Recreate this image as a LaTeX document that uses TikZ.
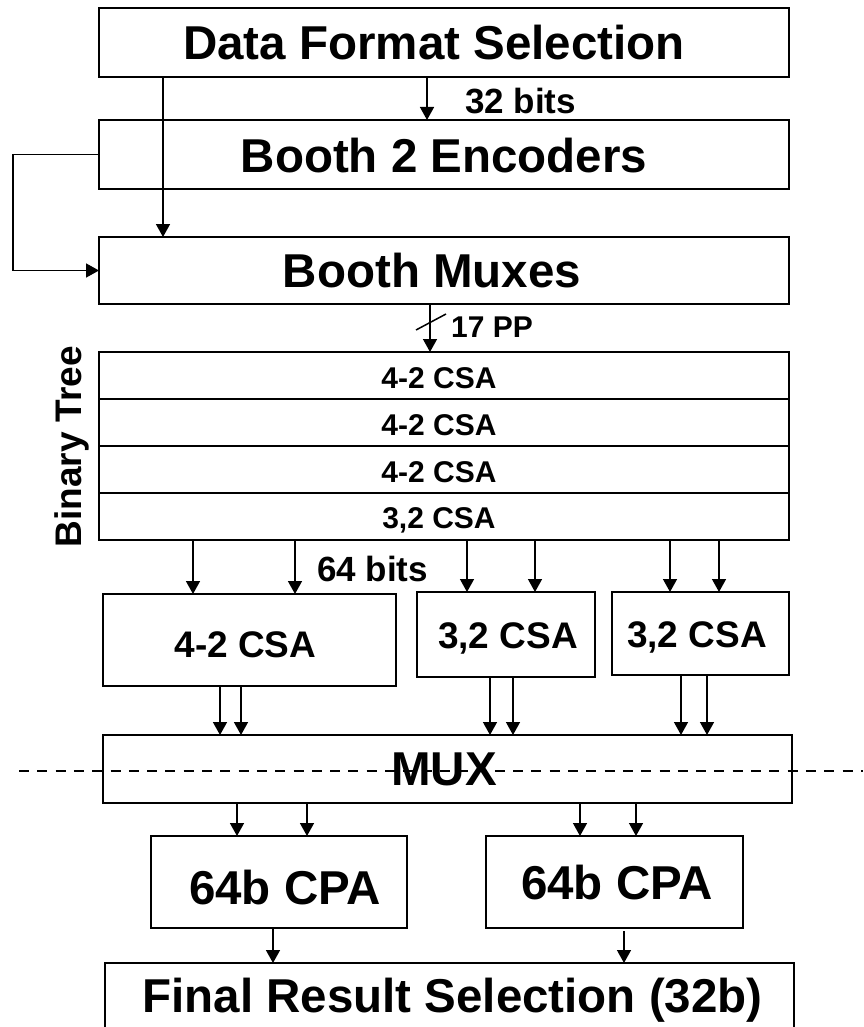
\documentclass[tikz,border=0pt]{standalone}
\usepackage{fontspec}
\setmainfont{Liberation Sans}
\usetikzlibrary{arrows.meta}
\begin{document}
\begin{tikzpicture}[x=1pt,y=-1pt,
  box/.style={draw, line width=2.2pt, anchor=north west, inner sep=0pt, outer sep=0pt},
  arr/.style={line width=1.5pt, -{Triangle[length=13pt,width=14pt]}},
  wire/.style={line width=1.5pt},
  big/.style={font=\fontsize{47.5}{50}\selectfont\bfseries},
  mid/.style={font=\fontsize{37}{40}\selectfont\bfseries},
  small/.style={font=\fontsize{30}{32}\selectfont\bfseries},
  lbl/.style={inner sep=0pt, font=\fontsize{35}{38}\selectfont\bfseries},
  cut/.style={line width=2.8pt, dash pattern=on 10pt off 8.3pt}
]
\fill[white] (0,0) rectangle (863,1027);
\useasboundingbox (0,0) rectangle (863,1027);

% boxes
\node[box, minimum width=690pt, minimum height=69pt,
  label={[big,xshift=-10pt]center:Data Format Selection}] (dfs) at (99,8) {};
\node[box, minimum width=690pt, minimum height=69pt,
  label={[big,yshift=-1pt]center:Booth 2 Encoders}] (enc) at (99,120) {};
\node[box, minimum width=690pt, minimum height=67pt,
  label={[big,xshift=-12pt]center:Booth Muxes}] (bm) at (99,237) {};

\node[box, minimum width=690pt, minimum height=47pt,
  label={[small,xshift=-5pt,yshift=-3pt]center:4-2 CSA}] (r1) at (99,352) {};
\node[box, minimum width=690pt, minimum height=47pt,
  label={[small,xshift=-5pt,yshift=-3pt]center:4-2 CSA}] (r2) at (99,399) {};
\node[box, minimum width=690pt, minimum height=47pt,
  label={[small,xshift=-5pt,yshift=-3pt]center:4-2 CSA}] (r3) at (99,446) {};
\node[box, minimum width=690pt, minimum height=47pt,
  label={[small,xshift=-5pt,yshift=-4pt]center:{3,2 CSA}}] (r4) at (99,493) {};

\node[box, minimum width=293pt, minimum height=92pt,
  label={[mid,xshift=-4pt,yshift=-4.5pt]center:4-2 CSA}] (csa42) at (103,594) {};
\node[box, minimum width=178pt, minimum height=85pt,
  label={[mid,xshift=2pt,yshift=-4pt]center:{3,2 CSA}}] (csa32a) at (417,592) {};
\node[box, minimum width=177pt, minimum height=83pt,
  label={[mid,xshift=-3.5pt,yshift=-4pt]center:{3,2 CSA}}] (csa32b) at (612,592) {};

\node[box, minimum width=689pt, minimum height=68pt,
  label={[big,xshift=-3.5pt]center:MUX}] (mux) at (103,735) {};

\node[box, minimum width=256pt, minimum height=92pt,
  label={[big,xshift=6pt,yshift=-6pt]center:64b CPA}] (cpa1) at (151,836) {};
\node[box, minimum width=257pt, minimum height=92pt,
  label={[big,xshift=2.5pt,yshift=-1pt]center:64b CPA}] (cpa2) at (486,836) {};

\node[box, minimum width=689pt, minimum height=75pt,
  label={[big,xshift=3pt]center:Final Result Selection (32b)}] (final) at (105,963) {};

% free labels
\node[lbl, anchor=base west] (t32) at (465,113.3) {32 bits};
\node[small, inner sep=0pt, anchor=base west] (t17) at (451,337) {17 PP};
\node[lbl, anchor=base west] (t64) at (317,581.7) {64 bits};
\node[mid, rotate=90, anchor=base, inner sep=0pt] (bt) at (81.7,446.7) {Binary Tree};

% x positions of connectors
\coordinate (e1) at (427,0);
\coordinate (e2) at (163,0);
\coordinate (e3) at (430,0);
\coordinate (fb) at (13,200);
\coordinate (a1) at (193,0);
\coordinate (a2) at (295,0);
\coordinate (a3) at (467,0);
\coordinate (a4) at (535,0);
\coordinate (a5) at (670,0);
\coordinate (a6) at (719,0);
\coordinate (b1) at (220,0);
\coordinate (b2) at (241,0);
\coordinate (b3) at (490,0);
\coordinate (b4) at (513,0);
\coordinate (b5) at (681,0);
\coordinate (b6) at (707,0);
\coordinate (c1) at (237,0);
\coordinate (c2) at (307,0);
\coordinate (c3) at (580,0);
\coordinate (c4) at (636,0);
\coordinate (d1) at (273,0);
\coordinate (d2) at (624,0);

% connectors
\draw[arr] (dfs.south -| e1) -- (enc.north -| e1);
\draw[arr] (dfs.south -| e2) -- (bm.north -| e2);
\draw[arr] (enc.west) -| (fb) |- (bm.west);
\draw[arr] (bm.south -| e3) -- (r1.north -| e3);
\coordinate (sl) at (431,322);
\draw[wire] ([shift={(-15pt,-8pt)}]sl) -- ([shift={(15pt,8pt)}]sl);

\draw[arr] (r4.south -| a1) -- (csa42.north -| a1);
\draw[arr] (r4.south -| a2) -- (csa42.north -| a2);
\draw[arr] (r4.south -| a3) -- (csa32a.north -| a3);
\draw[arr] (r4.south -| a4) -- (csa32a.north -| a4);
\draw[arr] (r4.south -| a5) -- (csa32b.north -| a5);
\draw[arr] (r4.south -| a6) -- (csa32b.north -| a6);

\draw[arr] (csa42.south -| b1) -- (mux.north -| b1);
\draw[arr] (csa42.south -| b2) -- (mux.north -| b2);
\draw[arr] (csa32a.south -| b3) -- (mux.north -| b3);
\draw[arr] (csa32a.south -| b4) -- (mux.north -| b4);
\draw[arr] (csa32b.south -| b5) -- (mux.north -| b5);
\draw[arr] (csa32b.south -| b6) -- (mux.north -| b6);

\draw[arr] (mux.south -| c1) -- (cpa1.north -| c1);
\draw[arr] (mux.south -| c2) -- (cpa1.north -| c2);
\draw[arr] (mux.south -| c3) -- (cpa2.north -| c3);
\draw[arr] (mux.south -| c4) -- (cpa2.north -| c4);

\draw[arr] (cpa1.south -| d1) -- (final.north -| d1);
\path (cpa2.south -| d2) coordinate (d2t);
\draw[arr] ([yshift=-3pt]d2t) -- (final.north -| d2);

% dashed cut line
\coordinate (dl) at (19,771);
\coordinate (dr) at (863,771);
\draw[cut] (dl) -- (dr);
\end{tikzpicture}
\end{document}
